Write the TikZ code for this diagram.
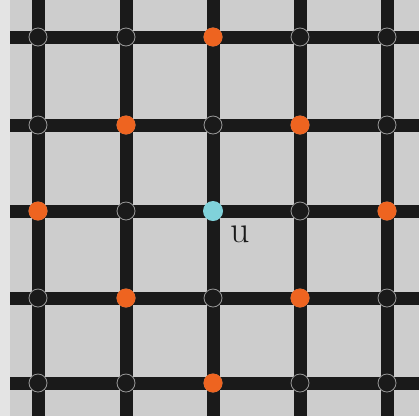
\documentclass[tikz,border=0pt]{standalone}
\usepackage{tikz}
\usepackage{xcolor}
\usetikzlibrary{positioning}
\definecolor{paper}{HTML}{E4E4E4}
\definecolor{board}{HTML}{CDCDCD}
\definecolor{wire}{HTML}{1A1A1A}
\definecolor{ring}{HTML}{9A9A9A}
\definecolor{hot}{HTML}{EE6420}
\definecolor{centre}{HTML}{80D2DA}
\tikzset{
  gridline/.style={draw=wire, line width=13pt},
  site/.style={circle, draw=ring, line width=0.8pt, fill=wire,
               minimum size=18pt, inner sep=0pt},
  hotsite/.style={circle, fill=hot, minimum size=19pt, inner sep=0pt},
  startsite/.style={circle, fill=centre, minimum size=20pt, inner sep=0pt},
  tag/.style={font=\fontsize{38}{38}\selectfont, text=wire}
}

\begin{document}
\begin{tikzpicture}[x=1pt,y=-1pt]
        \useasboundingbox (0,0) rectangle (419,416);
        \fill[paper] (0,0) rectangle (419,416);
        \fill[board] (10,0) rectangle (419,416);
        % grid positions of the lattice
        \foreach \i/\gx in {1/38,2/126,3/213,4/300,5/387} {
          \coordinate (top\i) at (\gx,0);
          \coordinate (bot\i) at (\gx,416);
        }
        \foreach \j/\gy in {1/37,2/125,3/211,4/298,5/383} {
          \coordinate (lft\j) at (10,\gy);
          \coordinate (rgt\j) at (419,\gy);
        }
        % the lines
        \foreach \k in {1,...,5} {
          \draw[gridline] (top\k) -- (bot\k);
          \draw[gridline] (lft\k) -- (rgt\k);
        }
        % plain sites at every crossing
        \foreach \i in {1,...,5} {
          \foreach \j in {1,...,5} {
            \node[site] (s\i\j) at (top\i |- lft\j) {};
          }
        }
        % sites at distance two from u
        \foreach \i/\j in {3/1,2/2,4/2,1/3,5/3,2/4,4/4,3/5} {
          \node[hotsite] at (s\i\j) {};
        }
        \node[startsite] (u) at (s33) {};
        \node[tag] (ulabel) at (240,234) {u};
      \end{tikzpicture}
\end{document}
